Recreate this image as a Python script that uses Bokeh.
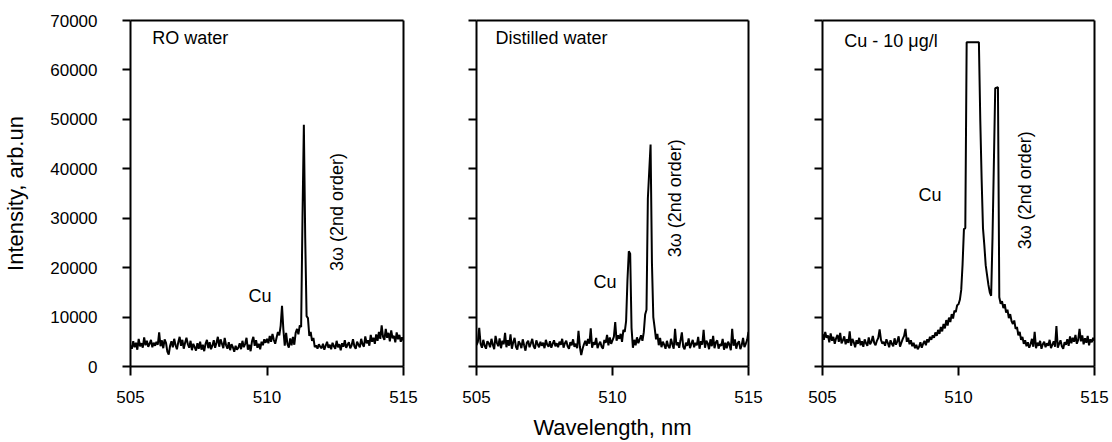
import numpy as np
from bokeh.plotting import figure
from bokeh.layouts import row
from bokeh.models import Label, FixedTicker, Range1d, LinearAxis, CustomJSTickFormatter
from bokeh.embed import file_html
from bokeh.resources import INLINE

# ---------------- data ----------------
wl_start = 505.0          # nm, first sample
wl_step = 0.05            # nm, sample spacing

ro_water = [
    4200, 3600, 5100, 3900, 4800, 3400, 5600, 4100, 4700, 3800, 5900, 4300, 5200, 4000, 4600, 5400, 3900, 4800, 4200, 5000,
    4400, 6900, 4100, 5300, 3700, 5500, 4800, 3000, 2400, 4200, 5100, 3900, 5600, 4300, 3500, 4900, 6000, 4200, 5400, 3600,
    4800, 5800, 4500, 3800, 5200, 3300, 4600, 3900, 3200, 4700, 3600, 5000, 3400, 4400, 3100, 4600, 5400, 3700, 4900, 3500,
    4200, 5300, 3800, 4800, 6000, 4000, 5500, 4600, 3700, 5800, 4300, 3600, 4900, 3300, 4500, 3900, 3000, 4200, 3400, 3800,
    4700, 3500, 5200, 3900, 4600, 5800, 3400, 4400, 3100, 5100, 6000, 4200, 5300, 3800, 4600, 3500, 5000, 4300, 5500, 4800,
    5600, 4700, 6200, 5000, 6600, 5400, 4600, 5800, 7000, 6300, 8200, 12300, 7400, 4200, 6800, 4500, 3800, 5700, 4300, 6000,
    4400, 6800, 7600, 6500, 8300, 8000, 30000, 48900, 26000, 10200, 9800, 6200, 7000, 5200, 5800, 3900, 4300, 3600, 4500, 4000,
    3700, 4600, 3400, 4200, 5000, 3800, 4400, 3500, 4800, 4100, 3600, 5200, 3900, 4500, 3300, 4700, 4000, 5300, 3800, 4400,
    4900, 3700, 4300, 5500, 4100, 3600, 5000, 4400, 3900, 5600, 4500, 4000, 6100, 4700, 5300, 4200, 6400, 5000, 5800, 4600,
    6500, 5200, 7000, 5600, 8300, 6000, 5400, 7600, 5800, 6800, 5100, 7300, 5700, 6200, 4900, 6900, 5500, 6400, 5000, 5900, 5300,
]

distilled = [
    4300, 5000, 7800, 4600, 3800, 5400, 4200, 3600, 5100, 4700, 3900, 5600, 4400, 3500, 6200, 4800, 4100, 5700, 3700, 5200,
    4500, 6800, 3900, 5300, 4200, 6500, 3600, 4900, 5800, 4000, 3400, 5100, 4600, 3700, 5500, 4300, 3200, 4800, 5200, 3900,
    4700, 5600, 4100, 3600, 5300, 4500, 3900, 5000, 4200, 4800, 3700, 5400, 4400, 4000, 5100, 3800, 4600, 5300, 4100, 4700,
    3900, 5000, 4400, 5600, 3800, 4700, 5200, 4100, 3600, 4900, 4300, 5500, 4000, 4600, 3700, 7200, 4000, 2300, 3600, 4500,
    5200, 4200, 5600, 4600, 7700, 3800, 4900, 4400, 5800, 3700, 4500, 5000, 4000, 3600, 5400, 4800, 6400, 4300, 5900, 4600,
    5300, 6000, 9000, 5200, 6300, 5600, 6600, 5000, 7400, 7000, 9200, 17500, 23300, 22800, 7800, 3800, 5400, 4300, 5900, 4700,
    5500, 6300, 5200, 6900, 10500, 11500, 34000, 39500, 44900, 21000, 10000, 7800, 5500, 6600, 4300, 5800, 3900, 5000, 4400, 3600,
    5200, 4100, 3700, 5600, 4500, 3600, 7600, 4300, 4900, 3800, 5300, 6900, 4000, 3500, 4800, 4200, 5700, 3700, 4600, 5400,
    3900, 4800, 4300, 6000, 3600, 5100, 4400, 7400, 3800, 5200, 4700, 3500, 5500, 4100, 6200, 3700, 4900, 5300, 3600, 4500,
    4200, 5600, 3400, 4800, 3700, 5000, 4400, 3300, 7600, 4200, 5500, 3600, 4700, 5100, 3500, 4300, 5800, 3900, 4600, 5400, 7000,
]

cu_10 = [
    6600, 5400, 7000, 5800, 6300, 4900, 6700, 5200, 6000, 4600, 5700, 6400, 5000, 6800, 4700, 5300, 6100, 4500, 5500, 4800,
    7100, 4200, 5600, 4900, 3900, 5300, 4600, 5800, 4300, 5100, 4000, 5500, 4700, 4200, 5900, 4500, 5000, 6200, 4800, 4300,
    5200, 5800, 7500, 5400, 4600, 5000, 4200, 5500, 4800, 3900, 5300, 4600, 4100, 5700, 4400, 5100, 6100, 4000, 4800, 5600,
    6200, 7600, 5000, 5800, 4500, 5300, 4100, 4800, 3700, 4400, 3500, 4000, 4900, 3800, 4600, 5200, 4300, 5500, 4900, 6000,
    5400, 6300, 5800, 6900, 6200, 7400, 6600, 8000, 7100, 8600, 7700, 9400, 8300, 9900, 9000, 10600, 9700, 11300, 11000, 12400,
    12600, 13500, 15500, 20700, 27800, 28000, 65600, 65600, 65600, 65600, 65600, 65600, 65600, 65600, 65600, 65600, 50000, 38000, 28000, 24500,
    20500, 18500, 16500, 15000, 14300, 26000, 41000, 56300, 56400, 56500, 14000, 12700, 13200, 11800, 12600, 10900, 11500, 9800, 10600, 9200,
    8600, 9300, 7600, 8000, 6300, 7000, 5400, 6000, 4600, 5300, 4100, 4900, 3800, 4500, 5600, 4000, 7000, 3700, 4800, 4200,
    5200, 3600, 4500, 5000, 3900, 4700, 4200, 5400, 3700, 4400, 5100, 4000, 8200, 3800, 4600, 5300, 4100, 3600, 4900, 4400,
    5500, 4200, 6100, 4700, 5800, 5000, 6400, 4600, 5400, 7600, 5100, 6300, 4500, 5700, 4800, 6200, 4300, 5500, 4900, 5800, 5200,
]

spectra = [ro_water, distilled, cu_10]
panel_names = ["RO water", "Distilled water", "Cu - 10 \u03bcg/l"]
name_pos = [(505.8, 66400), (505.7, 66400), (505.8, 65800)]
cu_text = "Cu"
cu_pos = [(509.32, 14300), (509.30, 17100), (508.53, 34600)]
harm_text = "3\u03c9 (2nd order)"
harm_pos = [(512.58, 19300), (512.28, 22100), (512.46, 23700)]

x_ticks = [505, 510, 515]
y_ticks = [0, 10000, 20000, 30000, 40000, 50000, 60000, 70000]
x_title = "Wavelength, nm"
y_title = "Intensity, arb.un"

FONT = "Liberation Sans"

# ---------------- layout ----------------
H = 442
widths = [430, 360, 322]
left_borders = [130, 46, 32]
right_borders = [27, 42, 18]
TOP, BOTTOM = 20, 74


def style_axis(ax):
    ax.axis_line_color = "black"
    ax.axis_line_width = 2
    ax.major_tick_line_color = "black"
    ax.major_tick_line_width = 2
    ax.major_tick_in = 0
    ax.minor_tick_line_color = None
    ax.minor_tick_in = 0
    ax.minor_tick_out = 0
    ax.major_label_text_font = FONT
    ax.major_label_text_font_size = "17px"
    ax.major_label_text_color = "black"
    ax.axis_label_text_font = FONT
    ax.axis_label_text_font_size = "22px"
    ax.axis_label_text_font_style = "normal"
    ax.axis_label_text_color = "black"


def make_panel(k):
    p = figure(width=widths[k], height=H,
               x_range=Range1d(505, 515), y_range=Range1d(0, 70000),
               output_backend="svg", toolbar_location=None,
               min_border_left=left_borders[k], min_border_right=right_borders[k],
               min_border_top=TOP, min_border_bottom=BOTTOM)
    p.grid.visible = False
    p.background_fill_color = "white"
    p.border_fill_color = "white"
    p.outline_line_color = None

    y = spectra[k]
    x = wl_start + wl_step * np.arange(len(y))
    p.line(x, y, line_color="black", line_width=2)

    style_axis(p.xaxis[0])
    style_axis(p.yaxis[0])
    p.xaxis.ticker = FixedTicker(ticks=x_ticks)
    p.xaxis.major_tick_out = 9
    p.xaxis.major_label_standoff = 15
    p.yaxis.ticker = FixedTicker(ticks=y_ticks)
    p.yaxis.major_tick_out = 8
    p.yaxis.major_label_standoff = 25

    if k == 0:
        p.yaxis.axis_label = y_title
        p.yaxis.axis_label_standoff = 19
    else:
        p.yaxis.formatter = CustomJSTickFormatter(code="return '';")
        p.yaxis.major_label_standoff = 0
    if k == 1:
        p.xaxis.axis_label = x_title
        p.xaxis.axis_label_standoff = 9

    # plain frame lines on the top and right sides
    for side in ("above", "right"):
        fr = LinearAxis(ticker=FixedTicker(ticks=[]))
        fr.axis_line_color = "black"
        fr.axis_line_width = 2
        fr.major_tick_out = 0
        fr.major_tick_in = 0
        fr.minor_tick_out = 0
        fr.minor_tick_in = 0
        fr.major_label_standoff = 0
        p.add_layout(fr, side)

    nx, ny = name_pos[k]
    p.add_layout(Label(x=nx, y=ny, text=panel_names[k], text_font=FONT,
                       text_font_size="18px", text_color="black",
                       text_align="left", text_baseline="middle"))
    cx, cy = cu_pos[k]
    p.add_layout(Label(x=cx, y=cy, text=cu_text, text_font=FONT,
                       text_font_size="18px", text_color="black",
                       text_align="left", text_baseline="middle"))
    hx, hy = harm_pos[k]
    p.add_layout(Label(x=hx, y=hy, text=harm_text, text_font=FONT,
                       text_font_size="18px", text_color="black",
                       text_align="left", text_baseline="middle",
                       angle=np.pi / 2))
    return p


panels = [make_panel(k) for k in range(3)]
layout = row(*panels)

open("out.html", "w").write(file_html(layout, INLINE))
